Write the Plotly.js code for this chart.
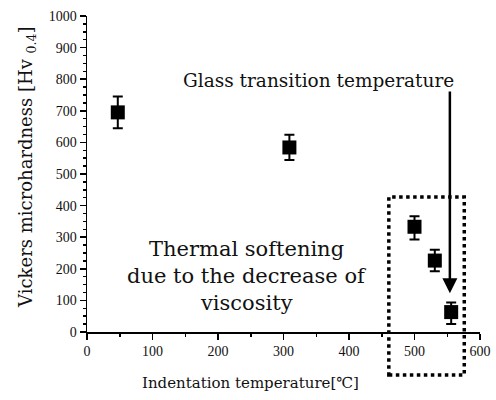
<!DOCTYPE html>
<html><head><meta charset="utf-8">
<script src="https://cdn.plot.ly/plotly-3.0.1.min.js"></script>
<style>body{margin:0;background:#fff}#c{width:496px;height:400px}</style>
</head><body><div id="c"></div>
<script>
const temperature = [47, 309, 500, 531, 556];
const hardness = [695, 584, 333, 226, 63];
const errPlus = [50, 40, 33, 34, 30];
const errMinus = [50, 40, 40, 34, 38];
const xTicks = [0, 100, 200, 300, 400, 500, 600];
const yTicks = [0, 100, 200, 300, 400, 500, 600, 700, 800, 900, 1000];

const tickFont = 'Liberation Serif, serif';
const font = 'DejaVu Serif, serif';
const trace = {
  x: temperature, y: hardness, type: 'scatter', mode: 'markers',
  marker: {symbol: 'square', size: 14, color: '#000'},
  error_y: {type: 'data', symmetric: false, array: errPlus, arrayminus: errMinus,
            color: '#000', thickness: 2, width: 5},
  cliponaxis: false, showlegend: false
};
const axisCommon = {
  showline: true, linecolor: '#000', linewidth: 1.5, ticks: 'outside', ticklen: 6,
  tickwidth: 1.5, tickcolor: '#000', showgrid: false, zeroline: false, mirror: false,
  tickfont: {family: tickFont, size: 14, color: '#111'}
};
function note(x, y, text, size, extra) {
  return Object.assign({x: x, y: y, xref: 'paper', yref: 'paper', showarrow: false,
    xanchor: 'center', yanchor: 'middle', text: text,
    font: {family: font, size: size, color: '#111'}}, extra || {});
}
const layout = {
  width: 496, height: 400,
  margin: {l: 87, r: 16, t: 16, b: 68},
  paper_bgcolor: '#fff', plot_bgcolor: '#fff',
  font: {family: font, color: '#111'},
  xaxis: Object.assign({}, axisCommon, {
    range: [0, 600], tickvals: xTicks, ticktext: xTicks.map(String),
    minor: {dtick: 50, ticklen: 3, tickcolor: '#000', ticks: 'outside'}
  }),
  yaxis: Object.assign({}, axisCommon, {
    range: [0, 1000], tickvals: yTicks, ticktext: yTicks.map(String),
    minor: {dtick: 25, ticklen: 3, tickcolor: '#000', ticks: 'outside'}
  }),
  shapes: [{
    type: 'rect', xref: 'paper', yref: 'paper', x0: 0.768, x1: 0.96, y0: -0.136, y1: 0.427,
    line: {color: '#000', width: 3.5, dash: 'dot'}, fillcolor: 'rgba(0,0,0,0)', layer: 'above'
  }],
  annotations: [
    {x: 554, y: 123, ax: 554, ay: 766, xref: 'x', yref: 'y', axref: 'x', ayref: 'y',
     showarrow: true, arrowhead: 2, arrowsize: 1.2, arrowwidth: 2.5, arrowcolor: '#000', text: ''},
    note(0.588, 0.795, 'Glass transition temperature', 18.5),
    note(0.407, 0.262, 'Thermal softening', 21),
    note(0.407, 0.176, 'due to the decrease of', 21),
    note(0.407, 0.092, 'viscosity', 21),
    note(0.415, -0.161, 'Indentation temperature[℃]', 15),
    note(-0.153, 0.522, 'Vickers microhardness [Hv <sub>0.4</sub>]', 18, {textangle: -90})
  ]
};
Plotly.newPlot('c', [trace], layout, {staticPlot: true, displayModeBar: false});
</script></body></html>
